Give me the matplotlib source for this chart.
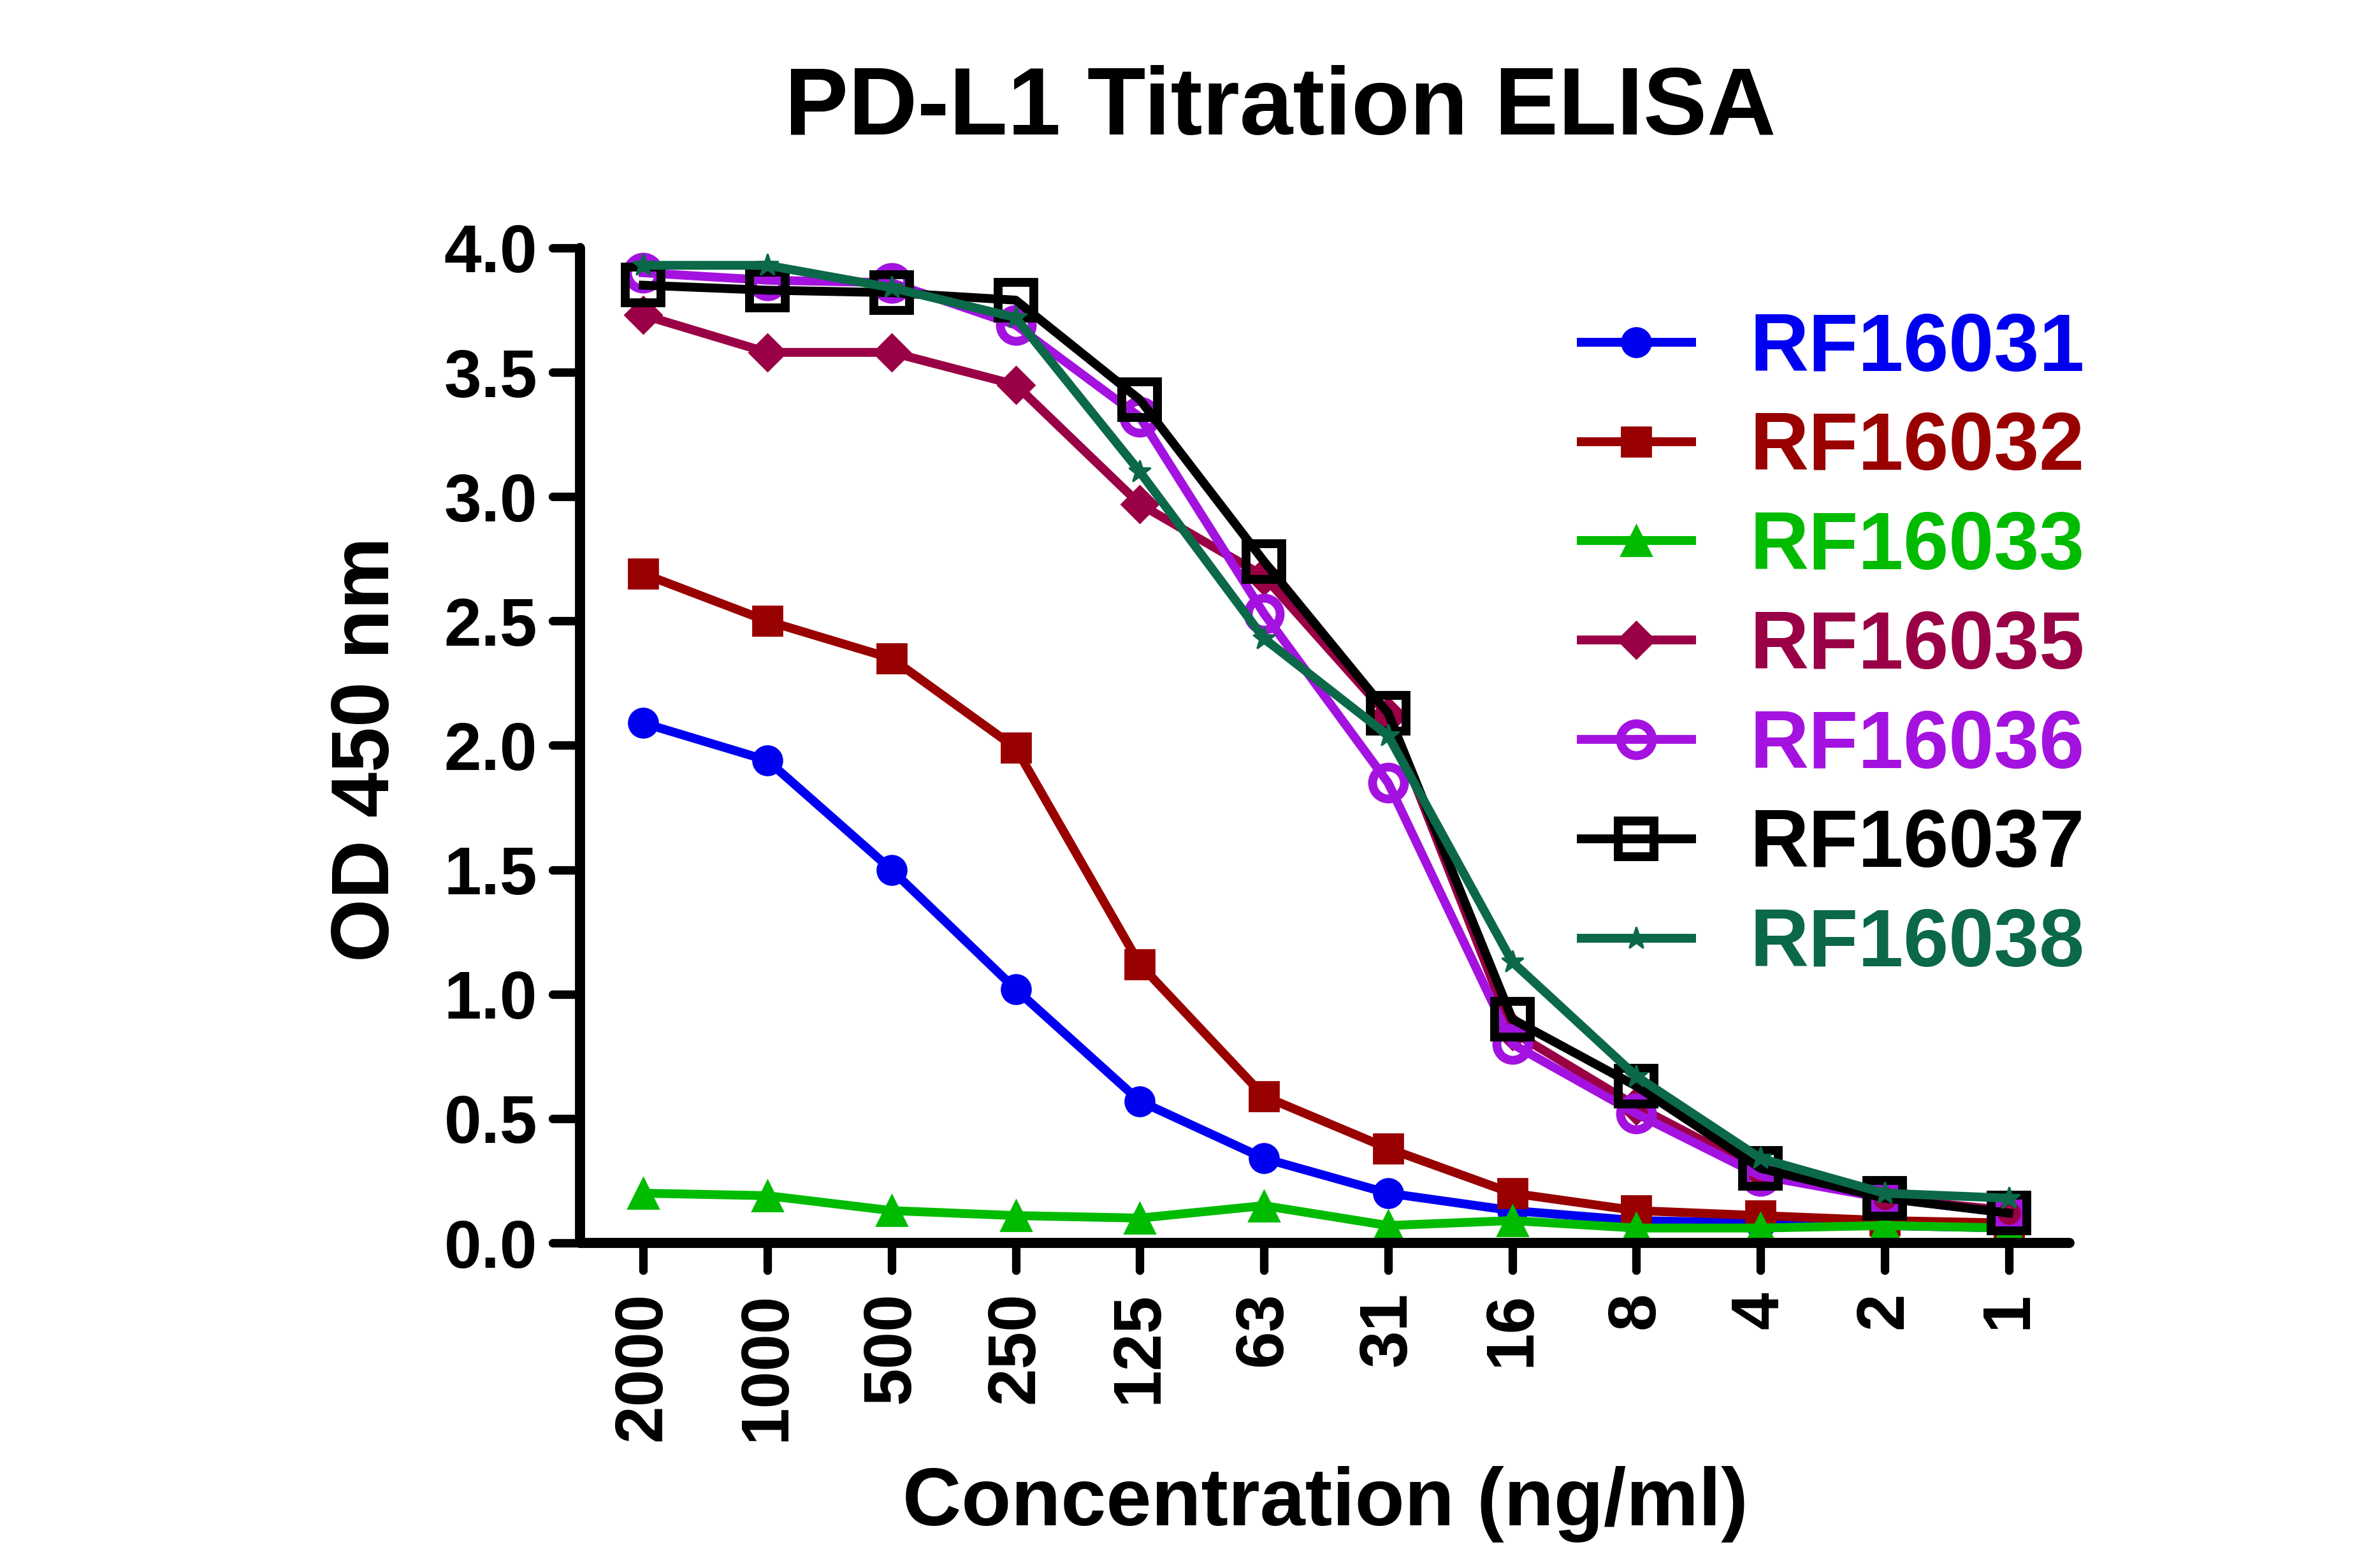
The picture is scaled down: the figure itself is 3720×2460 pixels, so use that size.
import matplotlib
matplotlib.use("Agg")
import matplotlib.pyplot as plt
from matplotlib.markers import MarkerStyle
import numpy as np

plt.rcParams['font.family'] = ['Liberation Sans', 'DejaVu Sans']
plt.rcParams['font.weight'] = 'bold'

concentrations = ["2000", "1000", "500", "250", "125", "63", "31", "16", "8", "4", "2", "1"]

series_names = ["RF16031", "RF16032", "RF16033", "RF16035", "RF16036", "RF16037", "RF16038"]

rf16031 = [2.09, 1.94, 1.50, 1.02, 0.57, 0.34, 0.20, 0.13, 0.09, 0.08, 0.07, 0.06]
rf16032 = [2.69, 2.50, 2.35, 1.99, 1.12, 0.59, 0.38, 0.20, 0.13, 0.11, 0.09, 0.08]
rf16033 = [0.20, 0.19, 0.13, 0.11, 0.10, 0.15, 0.07, 0.09, 0.06, 0.06, 0.07, 0.06]
rf16035 = [3.73, 3.58, 3.58, 3.45, 2.97, 2.68, 2.12, 0.85, 0.55, 0.29, 0.18, 0.13]
rf16036 = [3.90, 3.87, 3.86, 3.69, 3.32, 2.53, 1.85, 0.80, 0.52, 0.27, 0.18, 0.12]
rf16037 = [3.85, 3.83, 3.82, 3.79, 3.39, 2.74, 2.13, 0.90, 0.63, 0.30, 0.18, 0.12]
rf16038 = [3.93, 3.93, 3.84, 3.72, 3.10, 2.43, 2.04, 1.13, 0.67, 0.34, 0.20, 0.18]

colors = ["#0000F0", "#990000", "#00BB00", "#990045", "#A412E0", "#000000", "#0B6848"]

fig = plt.figure(figsize=(18.6, 12.3), dpi=200)
ax = fig.add_axes([0.2446, 0.2073, 0.8729 - 0.2446, 0.8419 - 0.2073])

x = np.arange(len(concentrations))
data = [rf16031, rf16032, rf16033, rf16035, rf16036, rf16037, rf16038]
styles = [
    dict(marker='o', markersize=16.5),
    dict(marker='s', markersize=16.5),
    dict(marker='^', markersize=17),
    dict(marker='D', markersize=15),
    dict(marker='o', markersize=18, markerfacecolor='none', markeredgewidth=5),
    dict(marker='s', markersize=20, markerfacecolor='none', markeredgewidth=5),
    dict(marker='*', markersize=13),
]
for name, vals, col, st in zip(series_names, data, colors, styles):
    ax.plot(x, vals, color=col, lw=5, label=name, clip_on=False, **st)

ax.set_xlim(-0.51, 11.49)
ax.set_ylim(0, 4.0)
yt = np.arange(0, 4.01, 0.5)
ax.set_yticks(yt)
ax.set_yticklabels([f"{v:.1f}" for v in yt])
ax.set_xticks(x)
ax.set_xticklabels(concentrations, rotation=90)

for s in ['top', 'right']:
    ax.spines[s].set_visible(False)
for s in ['left', 'bottom']:
    ax.spines[s].set_linewidth(5.7)
    ax.spines[s].set_capstyle('round')
ax.tick_params(axis='both', width=4.8, length=15.5, labelsize=38)
ax.tick_params(axis='y', pad=8.5)
ax.tick_params(axis='x', pad=12)

for tl in ax.xaxis.get_ticklines():
    tl.set_marker(MarkerStyle(tl.get_marker(), capstyle='round'))
for tl in ax.yaxis.get_ticklines():
    tl.set_marker(MarkerStyle(tl.get_marker(), capstyle='round'))

fig.text(0.54, 0.93, "PD-L1 Titration ELISA", ha='center', va='center',
         fontsize=54, fontweight='bold')
fig.text(0.559, 0.0405, "Concentration (ng/ml)", ha='center', va='center',
         fontsize=46, fontweight='bold')
fig.text(0.155, 0.522, "OD 450 nm", ha='center', va='center', rotation=90,
         fontsize=46, fontweight='bold')

leg = ax.legend(loc='upper left', bbox_to_anchor=(0.6670, 0.8014),
                bbox_transform=fig.transFigure, frameon=False, fontsize=46,
                handlelength=1.35, handletextpad=0.72, labelspacing=0.28,
                borderpad=0, borderaxespad=0, markerscale=1.0,
                labelcolor='linecolor')

fig.savefig("out.png", dpi=200)
